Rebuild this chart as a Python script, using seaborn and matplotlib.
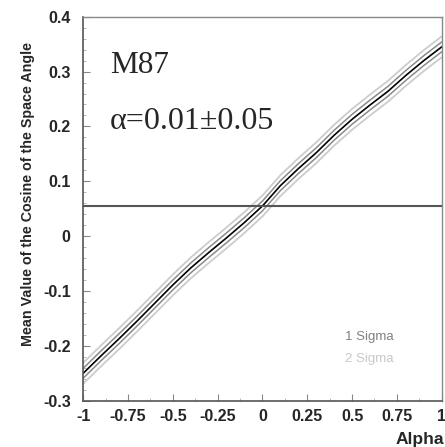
import matplotlib
matplotlib.use('Agg')
import matplotlib.pyplot as plt
from matplotlib.ticker import MultipleLocator
import pandas as pd
import seaborn as sns

# values
alpha = [-1.0, -0.9, -0.8, -0.7, -0.6, -0.5, -0.4, -0.3, -0.2, -0.1, 0.0,
         0.1, 0.2, 0.3, 0.4, 0.5, 0.6, 0.7, 0.8, 0.9, 1.0]
mean_cos = [-0.250, -0.218, -0.187, -0.155, -0.122, -0.089, -0.058, -0.030, -0.003, 0.025, 0.055,
            0.092, 0.123, 0.152, 0.184, 0.213, 0.239, 0.264, 0.293, 0.320, 0.345]
one_sigma = 0.009
two_sigma = 0.019
measured = 0.055

x_ticks = [-1, -0.75, -0.5, -0.25, 0, 0.25, 0.5, 0.75, 1]
x_tick_labels = ['-1', '-0.75', '-0.5', '-0.25', '0', '0.25', '0.5', '0.75', '1']
y_ticks = [-0.3, -0.2, -0.1, 0, 0.1, 0.2, 0.3, 0.4]
y_tick_labels = ['-0.3', '-0.2', '-0.1', '0', '0.1', '0.2', '0.3', '0.4']

sns.set_style('ticks')
plt.rcParams['font.family'] = ['Liberation Sans', 'DejaVu Sans']

df = pd.DataFrame({'alpha': alpha, 'cos': mean_cos})
df['up1'] = df['cos'] + one_sigma
df['lo1'] = df['cos'] - one_sigma
df['up2'] = df['cos'] + two_sigma
df['lo2'] = df['cos'] - two_sigma

fig = plt.figure(figsize=(4.45, 4.47), dpi=100)
ax = fig.add_axes([0.187, 0.1036, 0.8056, 0.859])

for col in ['up2', 'lo2']:
    sns.lineplot(data=df, x='alpha', y=col, ax=ax, color='#cccccc', linewidth=1.3)
for col in ['up1', 'lo1']:
    sns.lineplot(data=df, x='alpha', y=col, ax=ax, color='#8a8a8a', linewidth=1.1)
sns.lineplot(data=df, x='alpha', y='cos', ax=ax, color='black', linewidth=1.2)

ax.axhline(measured, color='#555555', linewidth=1.5)

ax.set_xlim(-1, 1)
ax.set_ylim(-0.3, 0.4)
ax.set_xticks(x_ticks)
ax.set_xticklabels(x_tick_labels, fontweight='bold', fontsize=11.5)
ax.set_yticks(y_ticks)
ax.set_yticklabels(y_tick_labels, fontweight='bold', fontsize=11.5)
ax.xaxis.set_minor_locator(MultipleLocator(0.125))
ax.yaxis.set_minor_locator(MultipleLocator(0.02))
ax.tick_params(which='major', direction='in', length=5, width=0.8, color='#888888')
ax.tick_params(which='minor', direction='in', length=2.5, width=0.6, color='#aaaaaa')
ax.tick_params(axis='x', pad=6)
ax.tick_params(axis='y', pad=9)

for side in ['left', 'bottom']:
    ax.spines[side].set_color('#555555')
    ax.spines[side].set_linewidth(1.2)
for side in ['top', 'right']:
    ax.spines[side].set_color('#888888')
    ax.spines[side].set_linewidth(1.0)

ax.set_xlabel('')
ax.set_ylabel('')
fig.text(0.999, 0.006, 'Alpha', fontweight='bold', fontsize=12.5, ha='right', va='baseline')
fig.text(0.062, 0.566, 'Mean Value of the Cosine of the Space Angle', fontweight='bold',
         fontsize=10.3, rotation=90, ha='center', va='center')

ax.text(0.075, 0.874, 'M87', transform=ax.transAxes, fontsize=22.5,
        family='Liberation Serif', va='center', ha='left')
ax.text(0.075, 0.726, 'α=0.01±0.05', transform=ax.transAxes, fontsize=23,
        family='Liberation Serif', va='center', ha='left')

ax.text(0.73, 0.166, '1 Sigma', transform=ax.transAxes, fontsize=9.5,
        color='#808080', va='center', ha='left')
ax.text(0.73, 0.109, '2 Sigma', transform=ax.transAxes, fontsize=9.5,
        color='#c8c8c8', va='center', ha='left')

plt.savefig('out.png', dpi=100)
